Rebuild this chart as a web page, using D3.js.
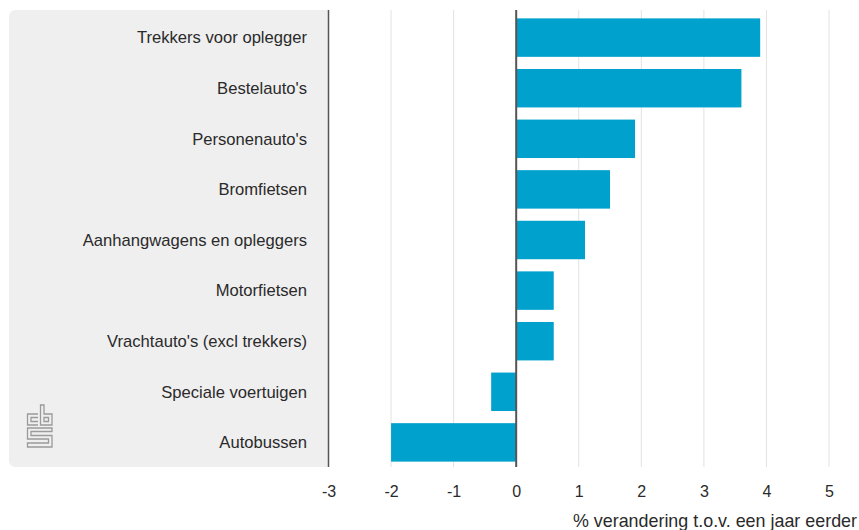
<!DOCTYPE html>
<html><head><meta charset="utf-8">
<script src="https://cdn.jsdelivr.net/npm/d3@7"></script>
<style>body{margin:0;background:#fff;} svg{display:block;font-family:"Liberation Sans",Arial,sans-serif;}</style>
</head><body><svg id="c" width="859" height="530"></svg>
<script>
const categories = ["Trekkers voor oplegger","Bestelauto's","Personenauto's","Bromfietsen","Aanhangwagens en opleggers","Motorfietsen","Vrachtauto's (excl trekkers)","Speciale voertuigen","Autobussen"];
const values = [3.9, 3.6, 1.9, 1.5, 1.1, 0.6, 0.6, -0.4, -2.0];
const xTicks = [-3,-2,-1,0,1,2,3,4,5];
const axisTitle = "% verandering t.o.v. een jaar eerder";

const svg = d3.select("#c");
const x = d3.scaleLinear().domain([-3,5]).range([328.5,829]);
const y = d3.scaleBand().domain(categories).range([12,468]).paddingInner(0.24).paddingOuter(0.126);
const yTop = 10, yBottom = 467;

// label panel
svg.append("path")
  .attr("d", `M${x(-3)},${yTop} H16 Q9,${yTop} 9,${yTop+7} V${yBottom-7} Q9,${yBottom} 16,${yBottom} H${x(-3)} Z`)
  .attr("fill","#efefef");

// gridlines
svg.append("g").selectAll("line").data(xTicks.filter(d=>d!==-3 && d!==0)).join("line")
  .attr("x1",d=>x(d)).attr("x2",d=>x(d)).attr("y1",yTop).attr("y2",yBottom)
  .attr("stroke","#e2e2e2").attr("stroke-width",1);

// bars
svg.append("g").selectAll("rect").data(categories).join("rect")
  .attr("x",(d,i)=>x(Math.min(0,values[i])))
  .attr("width",(d,i)=>Math.abs(x(values[i])-x(0)))
  .attr("y",d=>y(d)).attr("height",y.bandwidth())
  .attr("fill","#00a1cd");

// axis lines
svg.append("line").attr("x1",x(-3)).attr("x2",x(-3)).attr("y1",yTop).attr("y2",yBottom).attr("stroke","#555").attr("stroke-width",1.5);
svg.append("line").attr("x1",x(0)).attr("x2",x(0)).attr("y1",yTop).attr("y2",yBottom).attr("stroke","#555").attr("stroke-width",2);

// category labels
svg.append("g").selectAll("text").data(categories).join("text")
  .attr("x",307).attr("y",d=>y(d)+y.bandwidth()/2).attr("dy","0.35em")
  .attr("text-anchor","end").attr("font-size",16.6).attr("fill","#2a2a2a").text(d=>d);

// x tick labels
const xAxis = d3.axisBottom(x).tickValues(xTicks).tickSize(0).tickPadding(0).tickFormat(d3.format("d"));
const gx = svg.append("g").attr("transform",`translate(0,486)`).call(xAxis);
gx.select(".domain").remove();
gx.selectAll("text").attr("font-size",16).attr("fill","#2a2a2a").attr("font-family","Liberation Sans, Arial, sans-serif")
  .attr("dy","0.35em").attr("y",5.5).text(d=>d<0?"-"+Math.abs(d):d);

svg.append("text").attr("x",857).attr("y",527).attr("text-anchor","end").attr("font-size",17.9).attr("fill","#2a2a2a").text(axisTitle);

// cbs logo
const logo = svg.append("g").attr("fill","none").attr("stroke","#9a9a9a").attr("stroke-width",1.3);
logo.append("path").attr("d","M38,414 H27.5 V425 H38 M38,417.5 H31 V421.5 H38");
logo.append("path").attr("d","M40.5,405 V425 H52 V414 H44 V405 Z M44,417.5 H48.5 V421.5 H44 Z");
logo.append("path").attr("d","M52,428 H27.5 V439 H48.5 V443 H27.5 V447 H52 V435.5 H31 V431.5 H52 Z");
</script></body></html>
